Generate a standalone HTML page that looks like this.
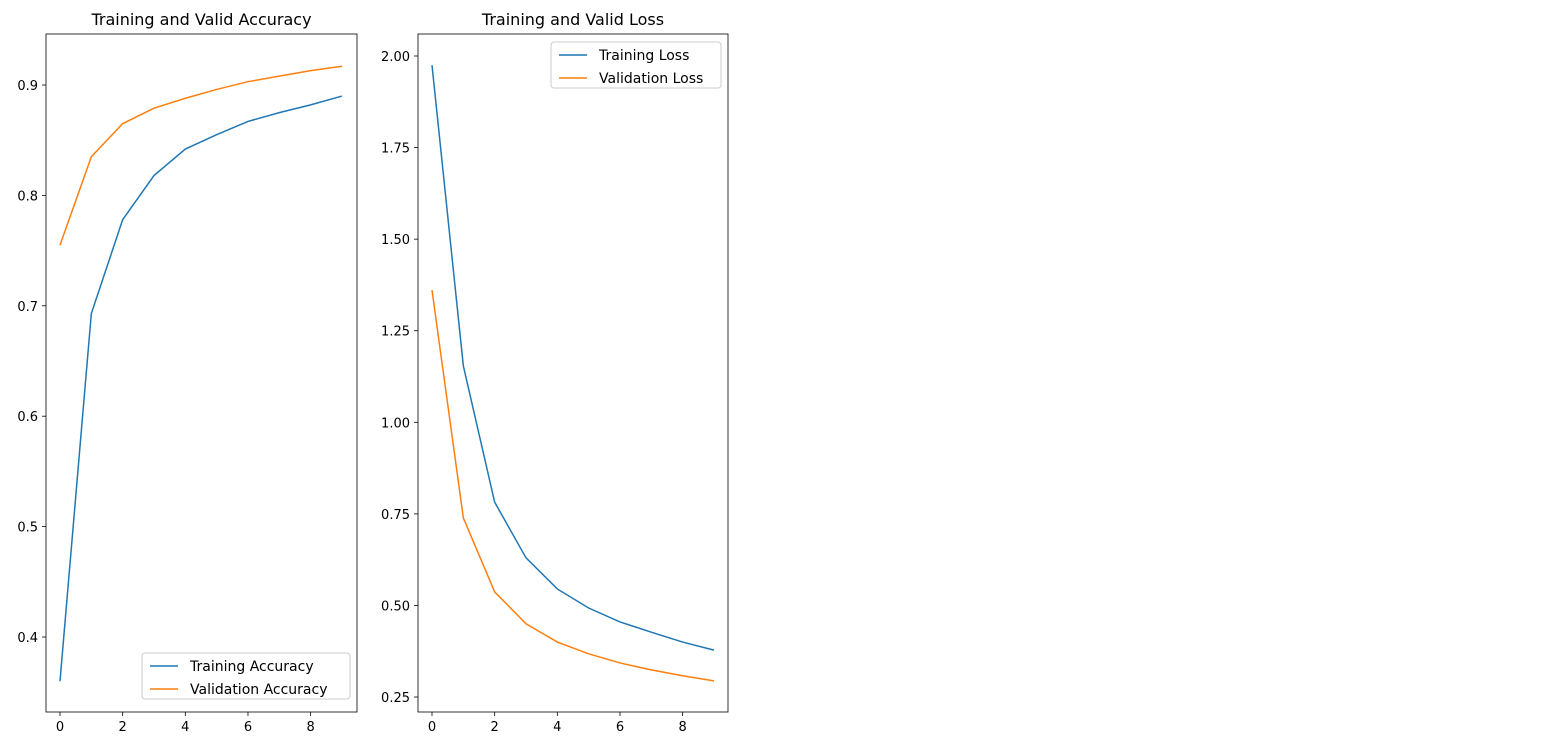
<!DOCTYPE html>
<html><head><meta charset="utf-8"><style>
body{margin:0;background:#fff;width:1551px;height:740px;overflow:hidden}
svg text{font-family:"DejaVu Sans","Liberation Sans",sans-serif;fill:#000}
</style></head><body>
<svg id="chart" width="1551" height="740" xmlns="http://www.w3.org/2000/svg"></svg>
<script>
const epochs=[0,1,2,3,4,5,6,7,8,9];
const trainAcc=[0.36,0.693,0.778,0.818,0.842,0.855,0.867,0.875,0.882,0.890];
const valAcc=[0.755,0.835,0.865,0.879,0.888,0.896,0.903,0.908,0.913,0.917];
const trainLoss=[1.975,1.154,0.782,0.630,0.545,0.493,0.455,0.427,0.400,0.378];
const valLoss=[1.361,0.739,0.537,0.450,0.400,0.368,0.343,0.324,0.308,0.294];
const accTicks=[0.4,0.5,0.6,0.7,0.8,0.9];
const accTickLabels=["0.4","0.5","0.6","0.7","0.8","0.9"];
const lossTicks=[0.25,0.5,0.75,1.0,1.25,1.5,1.75,2.0];
const lossTickLabels=["0.25","0.50","0.75","1.00","1.25","1.50","1.75","2.00"];
const xTicks=[0,2,4,6,8];

const svg=document.getElementById('chart');
const NS='http://www.w3.org/2000/svg';
function mk(tag,attrs,parent){const e=document.createElementNS(NS,tag);for(const k in attrs)e.setAttribute(k,attrs[k]);(parent||svg).appendChild(e);return e;}

function panel(cfg){
  const g=mk('g',{});
  
  
  const {x0,x1,y0,y1}=cfg;
  const xs=v=>cfg.xa+(v)*31.33;
  const ys=v=>cfg.ya+(v-cfg.yv)*cfg.yk;
  cfg.series.forEach(s=>{
    const pts=epochs.map((e,i)=>xs(e)+','+ys(s.data[i])).join(' ');
    const pl=mk('polyline',{points:pts,fill:'none',stroke:s.color,'stroke-width':1.5},g);
    
    
  });
  const fr=mk('rect',{x:x0,y:y0,width:x1-x0,height:y1-y0,fill:'none',stroke:'#000','stroke-width':0.8},g);
  
  
  xTicks.forEach(t=>{
    const x=xs(t);
    mk('line',{x1:x,x2:x,y1:y1,y2:y1+4,stroke:'#000','stroke-width':0.8},g);
    const tx=mk('text',{x:x,y:y1+19,'text-anchor':'middle','font-size':13},g);
    tx.textContent=t;
    
    
  });
  cfg.yt.forEach((t,i)=>{
    const y=ys(t);
    mk('line',{x1:x0-4,x2:x0,y1:y,y2:y,stroke:'#000','stroke-width':0.8},g);
    const tx=mk('text',{x:x0-8,y:y+5,'text-anchor':'end','font-size':13},g);
    tx.textContent=cfg.yl[i];
    
    
  });
  const ti=mk('text',{x:(x0+x1)/2,y:y0-9,'text-anchor':'middle','font-size':16},g);
  ti.textContent=cfg.title;
  
  
  const L=cfg.legend;
  const lg=mk('g',{},g);
  
  
  mk('rect',{x:L.x,y:L.y,width:L.w,height:46,rx:3,fill:'#fff',stroke:'#ccc'},lg);
  cfg.series.forEach((s,i)=>{
    const yy=L.y+13+i*23;
    mk('line',{x1:L.x+8,x2:L.x+36,y1:yy,y2:yy,stroke:s.color,'stroke-width':1.5},lg);
    const t=mk('text',{x:L.x+48,y:yy+5,'font-size':14},lg);
    t.textContent=s.label;
    
    
  });
}
panel({name:'accuracy-chart',title:'Training and Valid Accuracy',x0:46,x1:357,y0:34,y1:712,xa:60,ya:85,yv:0.9,yk:-1104,
  yt:accTicks,yl:accTickLabels,legend:{x:142,y:653,w:208},
  series:[{id:'training-accuracy-line',label:'Training Accuracy',color:'#1f77b4',data:trainAcc},
          {id:'validation-accuracy-line',label:'Validation Accuracy',color:'#ff7f0e',data:valAcc}]});
panel({name:'loss-chart',title:'Training and Valid Loss',x0:418,x1:728,y0:34,y1:712,xa:432,ya:56,yv:2.0,yk:-366.3,
  yt:lossTicks,yl:lossTickLabels,legend:{x:551,y:42,w:170},
  series:[{id:'training-loss-line',label:'Training Loss',color:'#1f77b4',data:trainLoss},
          {id:'validation-loss-line',label:'Validation Loss',color:'#ff7f0e',data:valLoss}]});
</script>
</body></html>
